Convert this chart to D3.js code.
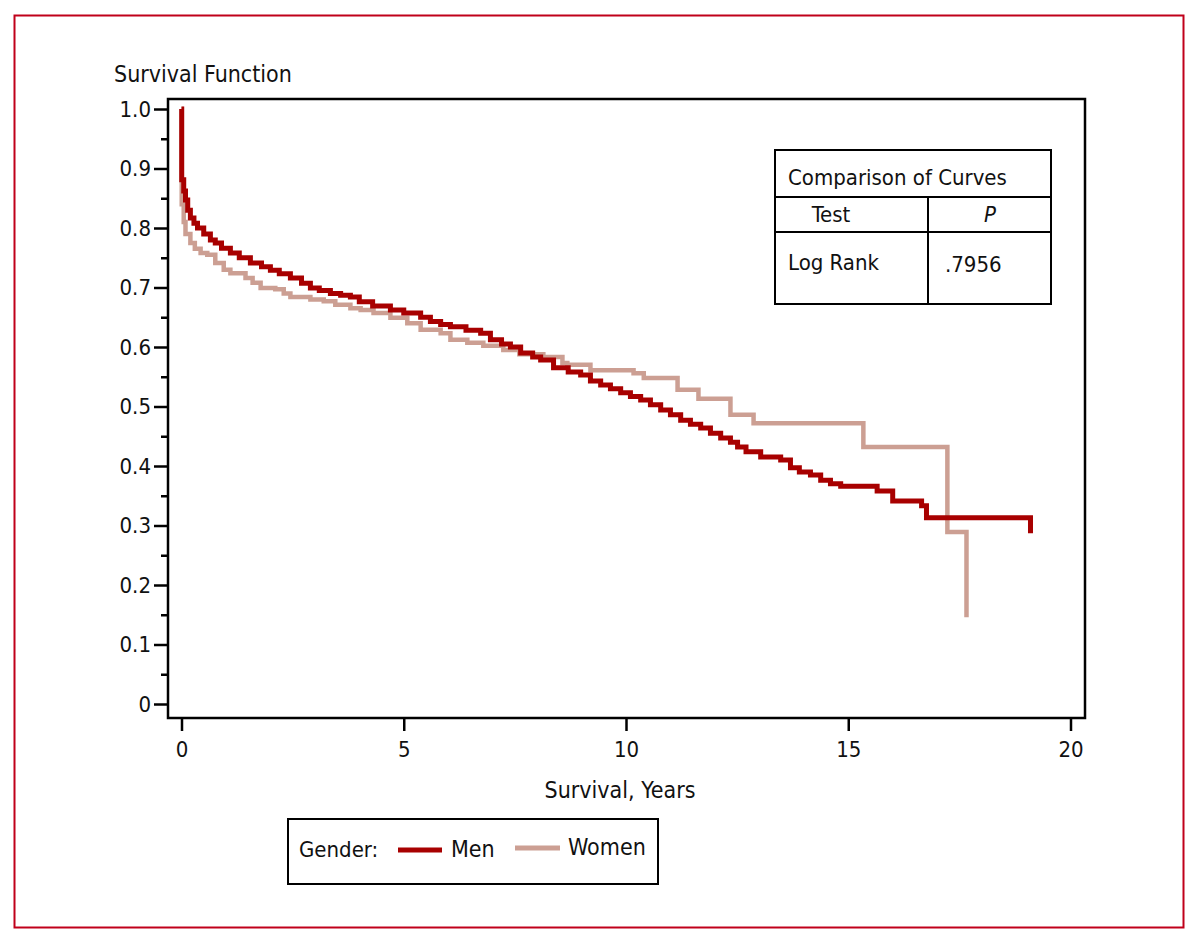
<!DOCTYPE html>
<html>
<head>
<meta charset="utf-8">
<script src="https://cdn.jsdelivr.net/npm/d3@7"></script>
<style>
  body { margin: 0; background: #fff; }
  svg text { font-family: "Liberation Sans Narrow", "Arial Narrow", "DejaVu Sans Condensed", sans-serif; font-stretch: condensed; fill: #111; }
</style>
</head>
<body>
<div id="chart"></div>
<script>
// Kaplan-Meier estimates (years, survival)
var menTime = [0, 0.005, 0.05, 0.09, 0.14, 0.20, 0.28, 0.36, 0.50, 0.65, 0.76, 0.90, 1.10, 1.30, 1.55, 1.80, 2.00, 2.20, 2.45, 2.70,
  2.90, 3.10, 3.35, 3.58, 3.80, 4.00, 4.30, 4.70, 5.00, 5.38, 5.60, 5.83, 6.05, 6.40, 6.73, 6.95, 7.20, 7.40, 7.63, 7.90,
  8.08, 8.37, 8.70, 8.98, 9.20, 9.43, 9.65, 9.88, 10.10, 10.33, 10.55, 10.78, 11.00, 11.23, 11.45, 11.68, 11.90, 12.13, 12.35, 12.51,
  12.70, 13.03, 13.48, 13.70, 13.90, 14.15, 14.38, 14.60, 14.83, 15.65, 16.00, 16.65, 16.76, 19.10];
var menSurv = [1.0, 0.881, 0.862, 0.847, 0.83, 0.817, 0.808, 0.80, 0.79, 0.78, 0.775, 0.766, 0.758, 0.75, 0.741, 0.735, 0.729, 0.723, 0.716, 0.707,
  0.699, 0.695, 0.69, 0.687, 0.684, 0.676, 0.669, 0.662, 0.657, 0.65, 0.643, 0.638, 0.634, 0.628, 0.623, 0.612, 0.605, 0.60, 0.59, 0.583,
  0.578, 0.565, 0.558, 0.553, 0.543, 0.536, 0.53, 0.523, 0.517, 0.511, 0.503, 0.494, 0.486, 0.477, 0.47, 0.464, 0.455, 0.447, 0.44, 0.432,
  0.424, 0.415, 0.41, 0.397, 0.39, 0.385, 0.376, 0.37, 0.366, 0.358, 0.341, 0.333, 0.313, 0.287];

var womenTime = [0, 0.005, 0.05, 0.09, 0.20, 0.30, 0.43, 0.58, 0.76, 0.95, 1.10, 1.44, 1.60, 1.78, 2.11, 2.30, 2.45, 2.90, 3.20, 3.46,
  3.80, 4.03, 4.32, 4.70, 5.08, 5.38, 5.83, 6.05, 6.43, 6.79, 7.24, 7.60, 8.14, 8.57, 8.68, 9.20, 10.17, 10.40, 11.16, 11.63,
  12.35, 12.87, 15.34, 17.23, 17.66];
var womenSurv = [1.0, 0.84, 0.81, 0.79, 0.775, 0.765, 0.758, 0.755, 0.741, 0.73, 0.724, 0.716, 0.708, 0.699, 0.697, 0.69, 0.684, 0.68, 0.677, 0.671,
  0.665, 0.662, 0.657, 0.649, 0.64, 0.629, 0.623, 0.612, 0.607, 0.602, 0.595, 0.588, 0.583, 0.573, 0.57, 0.561, 0.556, 0.548, 0.528, 0.513,
  0.486, 0.472, 0.432, 0.289, 0.146];

var xTicks = [0, 5, 10, 15, 20];
var yTicks = [0, 0.1, 0.2, 0.3, 0.4, 0.5, 0.6, 0.7, 0.8, 0.9, 1.0];
var yMinorTicks = [0.05, 0.15, 0.25, 0.35, 0.45, 0.55, 0.65, 0.75, 0.85, 0.95];
var yTickLabels = ["0", "0.1", "0.2", "0.3", "0.4", "0.5", "0.6", "0.7", "0.8", "0.9", "1.0"];

var svgWidth = 1198;
var svgHeight = 941;

var svg = d3.select("#chart")
    .append("svg")
    .attr("width", svgWidth)
    .attr("height", svgHeight);

svg.append("rect")
    .attr("width", svgWidth)
    .attr("height", svgHeight)
    .attr("fill", "#fff");

// red figure border
svg.append("rect")
    .attr("x", 14.5)
    .attr("y", 15.5)
    .attr("width", 1169)
    .attr("height", 912)
    .attr("fill", "none")
    .attr("stroke", "#c0001a")
    .attr("stroke-width", 2);

var xScale = d3.scaleLinear().domain([0, 20]).range([181.5, 1070.5]);
var yScale = d3.scaleLinear().domain([0, 1]).range([704, 109]);

// plot frame
var frame = {left: 168, top: 99, right: 1085, bottom: 718};
svg.append("rect")
    .attr("x", frame.left)
    .attr("y", frame.top)
    .attr("width", frame.right - frame.left)
    .attr("height", frame.bottom - frame.top)
    .attr("fill", "none")
    .attr("stroke", "#000")
    .attr("stroke-width", 2.5);

// y axis
var yAxis = d3.axisLeft(yScale)
    .tickValues(yTicks)
    .tickSize(14)
    .tickPadding(3)
    .tickFormat(function(d, i) { return yTickLabels[i]; });

var yG = svg.append("g")
    .attr("transform", `translate(${frame.left}, 0)`)
    .call(yAxis);
yG.select(".domain").remove();
yG.selectAll("line").attr("stroke", "#000").attr("stroke-width", 2.5);
yG.selectAll("text").attr("font-size", "22px").attr("fill", "#111");

var yMinor = d3.axisLeft(yScale).tickValues(yMinorTicks).tickSize(7).tickFormat("");
var yMG = svg.append("g")
    .attr("transform", `translate(${frame.left}, 0)`)
    .call(yMinor);
yMG.select(".domain").remove();
yMG.selectAll("line").attr("stroke", "#000").attr("stroke-width", 2.5);

// x axis
var xAxis = d3.axisBottom(xScale)
    .tickValues(xTicks)
    .tickSize(13)
    .tickPadding(10)
    .tickFormat(d3.format("d"));

var xG = svg.append("g")
    .attr("transform", `translate(0, ${frame.bottom})`)
    .call(xAxis);
xG.select(".domain").remove();
xG.selectAll("line").attr("stroke", "#000").attr("stroke-width", 2.5);
xG.selectAll("text").attr("font-size", "22px").attr("fill", "#111");

// axis titles
svg.append("text")
    .attr("x", 114)
    .attr("y", 82)
    .attr("font-size", "23px")
    .text("Survival Function");

svg.append("text")
    .attr("x", 620)
    .attr("y", 798)
    .attr("text-anchor", "middle")
    .attr("font-size", "23px")
    .text("Survival, Years");

// survival curves
var line = d3.line()
    .x(d => xScale(d[0]))
    .y(d => yScale(d[1]))
    .curve(d3.curveStepAfter);

var womenData = womenTime.map((t, i) => [t, womenSurv[i]]);
var menData = menTime.map((t, i) => [t, menSurv[i]]);

svg.append("path")
    .datum(womenData)
    .attr("d", line)
    .attr("fill", "none")
    .attr("stroke", "#cc9f93")
    .attr("stroke-width", 4.5);

svg.append("path")
    .datum(menData)
    .attr("d", line)
    .attr("fill", "none")
    .attr("stroke", "#a80000")
    .attr("stroke-width", 5);

// comparison table
var tbl = svg.append("g");
tbl.append("rect")
    .attr("x", 775).attr("y", 150)
    .attr("width", 276).attr("height", 154)
    .attr("fill", "#fff").attr("stroke", "#000").attr("stroke-width", 2);
tbl.append("line").attr("x1", 775).attr("x2", 1051).attr("y1", 197).attr("y2", 197)
    .attr("stroke", "#000").attr("stroke-width", 2);
tbl.append("line").attr("x1", 775).attr("x2", 1051).attr("y1", 232).attr("y2", 232)
    .attr("stroke", "#000").attr("stroke-width", 2);
tbl.append("line").attr("x1", 928).attr("x2", 928).attr("y1", 197).attr("y2", 304)
    .attr("stroke", "#000").attr("stroke-width", 2);
tbl.append("text").attr("x", 788).attr("y", 185).attr("font-size", "22px").text("Comparison of Curves");
tbl.append("text").attr("x", 831).attr("y", 222).attr("text-anchor", "middle").attr("font-size", "22px").text("Test");
tbl.append("text").attr("x", 990).attr("y", 222).attr("text-anchor", "middle").attr("font-size", "22px")
    .attr("font-style", "italic").text("P");
tbl.append("text").attr("x", 788).attr("y", 270).attr("font-size", "22px").text("Log Rank");
tbl.append("text").attr("x", 945).attr("y", 272).attr("font-size", "22px").text(".7956");

// legend
var legend = svg.append("g");
legend.append("rect")
    .attr("x", 288).attr("y", 819)
    .attr("width", 370).attr("height", 65)
    .attr("fill", "#fff").attr("stroke", "#000").attr("stroke-width", 2);
legend.append("text").attr("x", 299).attr("y", 857).attr("font-size", "22px").text("Gender:");
legend.append("line").attr("x1", 398).attr("x2", 442).attr("y1", 850).attr("y2", 850)
    .attr("stroke", "#a80000").attr("stroke-width", 5);
legend.append("text").attr("x", 451).attr("y", 857).attr("font-size", "23px").text("Men");
legend.append("line").attr("x1", 515).attr("x2", 560).attr("y1", 848).attr("y2", 848)
    .attr("stroke", "#cc9f93").attr("stroke-width", 5);
legend.append("text").attr("x", 568).attr("y", 855).attr("font-size", "23px").text("Women");
</script>
</body>
</html>
